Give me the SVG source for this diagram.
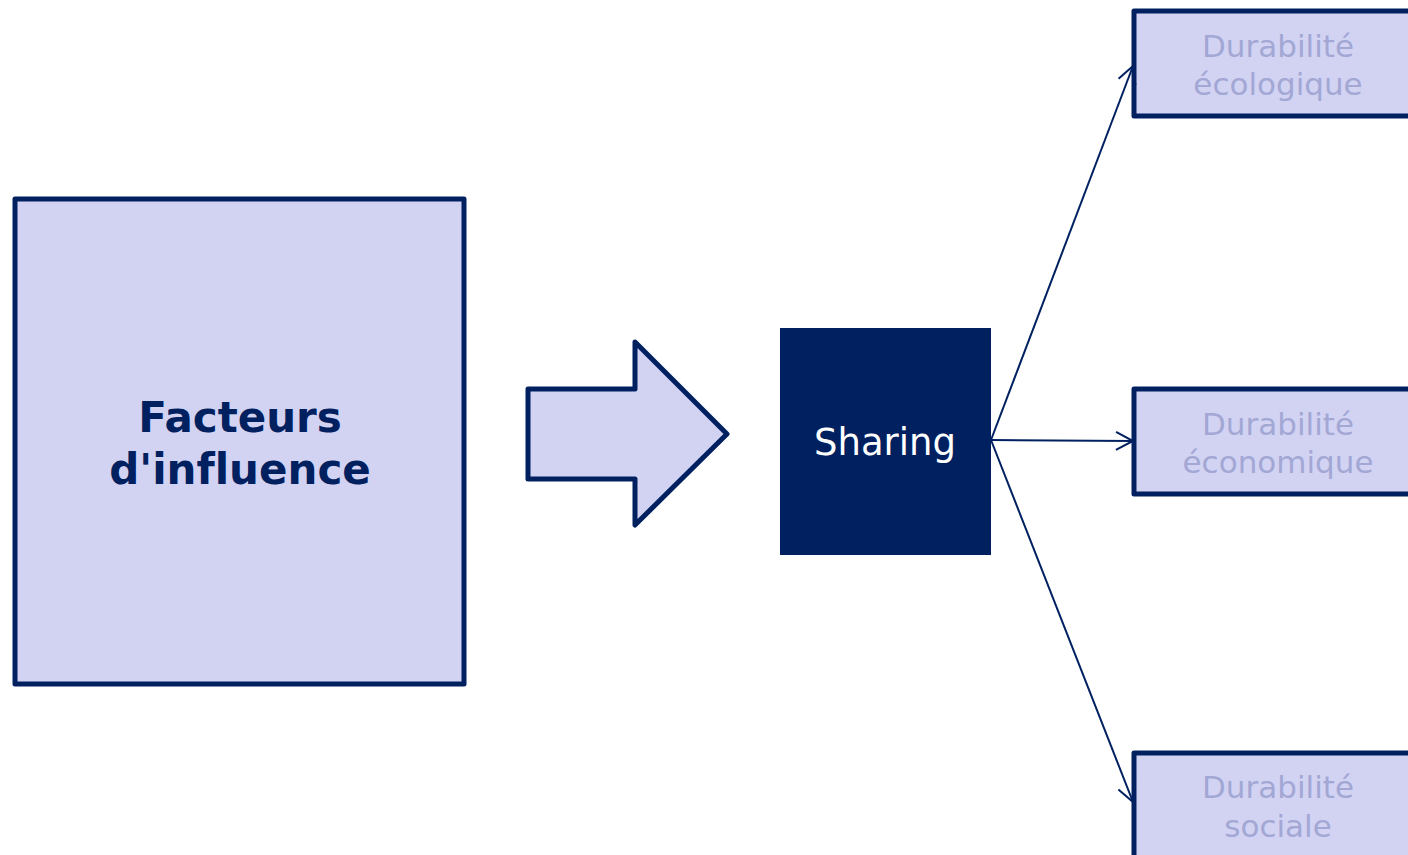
<svg xmlns="http://www.w3.org/2000/svg" width="1408" height="855" viewBox="0 0 1408 855">
<defs>
<style>
.box{fill:#d2d3f3;stroke:#002060;stroke-width:5;stroke-linejoin:round}
.out{font-family:"DejaVu Sans",Verdana,sans-serif;font-size:31px;fill:#a2a7d4;text-anchor:middle}
.conn{stroke:#002060;stroke-width:2;fill:none}
text{font-variant-ligatures:none}
</style>
<marker id="ah" viewBox="0 0 22 22" refX="19" refY="11" markerWidth="22" markerHeight="22" markerUnits="userSpaceOnUse" orient="auto">
<path d="M2,2 L19,11 L2,20" fill="none" stroke="#002060" stroke-width="2"/>
</marker>
</defs>
<rect width="1408" height="855" fill="#ffffff"/>
<g id="facteurs">
<rect class="box" x="15" y="199" width="449" height="485"/>
<text font-family="DejaVu Sans,Verdana,sans-serif" font-weight="bold" font-size="42" fill="#002060" text-anchor="middle"><tspan x="240" y="432">Facteurs</tspan><tspan x="240" y="484">d'influence</tspan></text>
</g>
<g id="big-arrow">
<path class="box" d="M528,389 L635,389 L635,342 L727,434 L635,525 L635,479 L528,479 Z" stroke-linejoin="miter"/>
</g>
<g id="sharing">
<rect x="780" y="328" width="211" height="227" fill="#002060"/>
<text x="885" y="455" font-family="DejaVu Sans,Verdana,sans-serif" font-size="37" fill="#ffffff" text-anchor="middle">Sharing</text>
</g>
<g id="ecologique">
<rect class="box" x="1134" y="11" width="290" height="105"/>
<text class="out"><tspan x="1278" y="57">Durabilité</tspan><tspan x="1278" y="95">écologique</tspan></text>
</g>
<g id="economique">
<rect class="box" x="1134" y="389" width="290" height="105"/>
<text class="out"><tspan x="1278" y="435">Durabilité</tspan><tspan x="1278" y="473">économique</tspan></text>
</g>
<g id="sociale">
<rect class="box" x="1134" y="753" width="290" height="105"/>
<text class="out"><tspan x="1278" y="798">Durabilité</tspan><tspan x="1278" y="837">sociale</tspan></text>
</g>
<g id="connectors">
<line class="conn" x1="991" y1="440" x2="1133" y2="66" marker-end="url(#ah)"/>
<line class="conn" x1="991" y1="440" x2="1133" y2="441" marker-end="url(#ah)"/>
<line class="conn" x1="991" y1="440" x2="1133" y2="802" marker-end="url(#ah)"/>
</g>
</svg>
